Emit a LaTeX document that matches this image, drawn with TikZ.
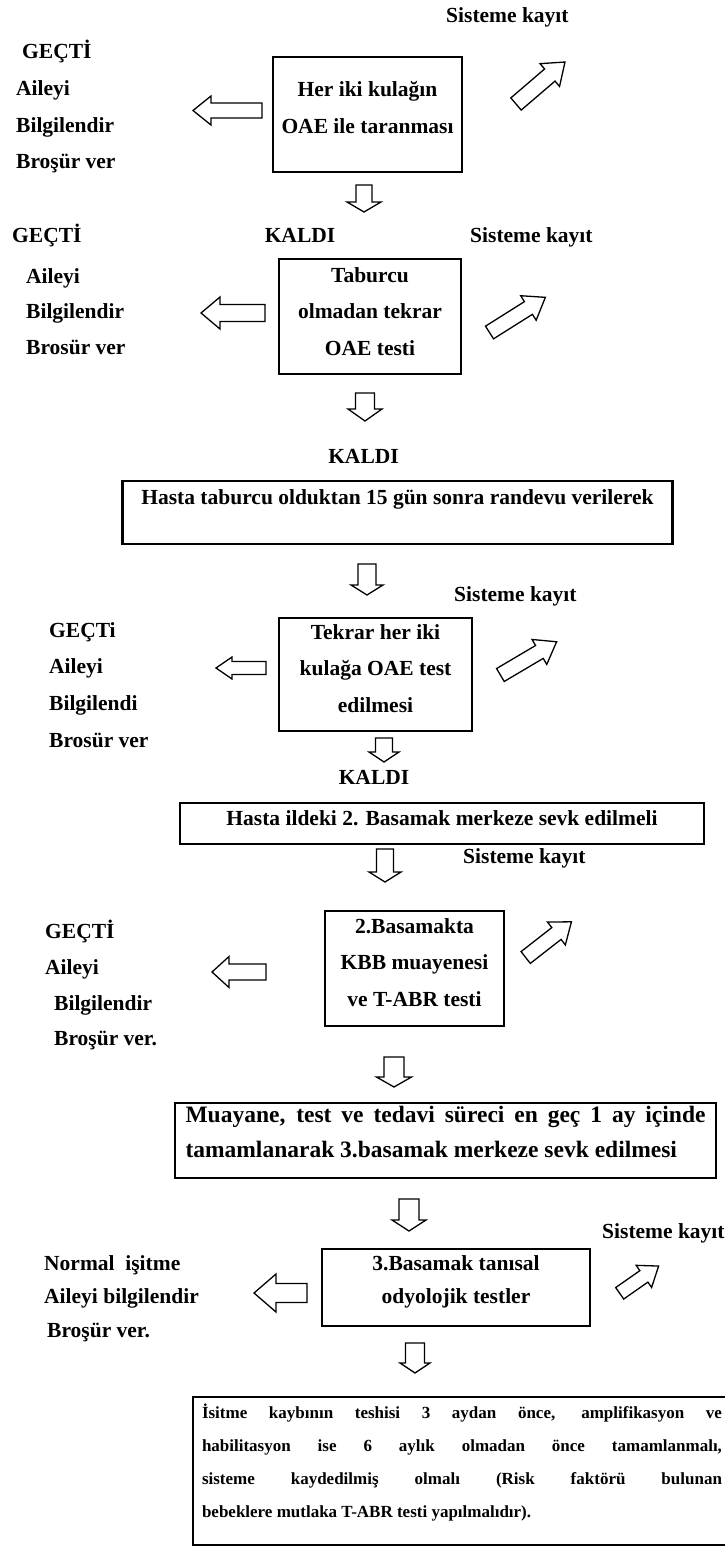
\documentclass[tikz,border=0pt]{standalone}
\usepackage{fontspec}
\setmainfont{Liberation Serif}
\newcommand\lab[2]{\bfseries\fontsize{#1}{#2}\selectfont}
\newcommand\fs{\rule{0pt}{18pt}}
\newcommand\ld[1]{\rule[-#1pt]{0pt}{0pt}}
\newcommand\blockarr[6]{\draw[barr, shift={(#1)}, rotate=#2] (0,-#4) -- ({#3-#6},-#4) -- ({#3-#6},-#5) -- (#3,0) -- ({#3-#6},#5) -- ({#3-#6},#4) -- (0,#4) -- cycle;}
\tikzset{
 barr/.style={draw=black, line width=1.3pt, fill=white, line join=miter},
 box/.style={draw=black, line width=2.5pt, inner sep=0pt, align=center, font=\lab{21.5}{36.5}},
 txt/.style={inner sep=0pt, anchor=base west, font=\lab{21.5}{36.5}},
 grp/.style={inner sep=0pt, anchor=north west, align=left},
}
\begin{document}
\begin{tikzpicture}[x=1pt,y=-1pt]
\useasboundingbox (0,0) rectangle (725,1547);
\fill[white] (0,0) rectangle (725,1547);

% row 1
\node[box, minimum width=189pt, minimum height=115pt] (b1) at (367.5,114.5) {\fs Her iki kulağın\\OAE ile taranması\ld{17}};
\node[txt] (s1) at (446,22) {Sisteme kayıt};
\node[grp, font=\lab{21.5}{36.7}] (g1) at (16,40) {\hspace*{6pt}GEÇTİ\fs\\Aileyi\\Bilgilendir\\Broşür ver};
\coordinate (l1) at (262,110.5); \blockarr{l1}{180}{69}{7.5}{14.5}{18}
\coordinate (r1) at (516,104); \blockarr{r1}{40.6}{64.5}{8}{15}{20}
\coordinate (d1) at (364,185); \blockarr{d1}{-90}{27}{8}{17}{10}

% row 2
\node[txt] (p2) at (12,242) {GEÇTİ};
\node[txt, anchor=base] (k1) at (300,242) {KALDI};
\node[txt] (s2) at (470,242) {Sisteme kayıt};
\node[box, minimum width=182pt, minimum height=115pt] (b2) at (370,316.5) {\fs Taburcu\\olmadan tekrar\\OAE testi\ld{14}};
\node[grp, font=\lab{21.5}{35.5}] (g2) at (26,265) {Aileyi\fs\\Bilgilendir\\Brosür ver};
\coordinate (l2) at (265,313); \blockarr{l2}{180}{64}{8.5}{16}{19}
\coordinate (r2) at (489.5,332.5); \blockarr{r2}{32.2}{66}{7.5}{14.5}{20}
\coordinate (d2) at (365,393); \blockarr{d2}{-90}{28}{9.5}{17}{12}

% row 3
\node[txt, anchor=base] (k2) at (363.5,463) {KALDI};
\node[box, minimum width=550pt, minimum height=63pt] (b3) at (397.5,512.5) {\fs Hasta taburcu olduktan 15 gün sonra randevu verilerek\ld{35}};
\coordinate (d3) at (367,564); \blockarr{d3}{-90}{31}{9}{16}{10}

% row 4
\node[txt] (s3) at (454,601) {Sisteme kayıt};
\node[box, minimum width=193pt, minimum height=113pt] (b4) at (375.5,674.5) {\fs Tekrar her iki\\kulağa OAE test\\edilmesi\ld{16}};
\node[grp, font=\lab{21.5}{36.7}] (g4) at (49,619) {GEÇTi\fs\\Aileyi\\Bilgilendi\\Brosür ver};
\coordinate (l4) at (266,668); \blockarr{l4}{180}{50}{6.5}{11}{16}
\coordinate (r4) at (500.4,675); \blockarr{r4}{30.6}{65.3}{7.5}{14.5}{20}
\coordinate (d4) at (384,738); \blockarr{d4}{-90}{24}{8.5}{15}{10}
\node[txt, anchor=base] (k3) at (374,784) {KALDI};

% row 5
\node[box, minimum width=524pt, minimum height=41pt] (b5) at (442,823.5) {\fs Hasta ildeki 2. Basamak merkeze sevk edilmeli\ld{15}};
\coordinate (d5) at (385,849); \blockarr{d5}{-90}{33}{8.5}{16}{10}
\node[txt] (s5) at (463,863) {Sisteme kayıt};

% row 6
\node[box, minimum width=179pt, minimum height=115pt] (b6) at (414.5,968.5) {\fs 2.Basamakta\\KBB muayenesi\\ve T-ABR testi\ld{16}};
\node[grp, font=\lab{21.5}{35.7}] (g6) at (45,920) {GEÇTİ\fs\\Aileyi\\\hspace*{9pt}Bilgilendir\\\hspace*{9pt}Broşür ver.};
\coordinate (l6) at (266,972); \blockarr{l6}{180}{54}{8}{15.5}{17}
\coordinate (r6) at (525.7,957.5); \blockarr{r6}{38}{58}{7.5}{14.5}{19}
\coordinate (d6) at (394,1057); \blockarr{d6}{-90}{30}{10}{17.5}{10}

% row 7
\node[box, minimum width=541pt, minimum height=75pt, text width=520pt, align=justify, font=\lab{23.5}{35}] (b7) at (445.5,1140.5) {\fs Muayane, test ve tedavi süreci en geç 1 ay içinde\linebreak tamamlanarak 3.basamak merkeze sevk edilmesi\ld{20}};
\coordinate (d7) at (409,1199); \blockarr{d7}{-90}{32}{10}{17}{11}

% row 8
\node[txt] (s8) at (602,1238) {Sisteme kayıt};
\node[box, minimum width=268pt, minimum height=77pt, font=\lab{21.5}{33}] (b8) at (456,1287.5) {\fs 3.Basamak tanısal\\odyolojik testler\ld{20}};
\node[grp, font=\lab{21.5}{33.5}] (g8) at (44,1252) {Normal\ \ işitme\fs\\Aileyi bilgilendir\\\hspace*{3pt}Broşür ver.};
\coordinate (l8) at (307,1293); \blockarr{l8}{180}{53}{9.5}{19}{22}
\coordinate (r8) at (619.7,1293.3); \blockarr{r8}{35}{47.5}{7}{13.5}{18}
\coordinate (d8) at (415,1343); \blockarr{d8}{-90}{30}{9.5}{15}{10}

% row 9
\node[box, minimum width=538pt, minimum height=148pt, text width=520pt, align=justify, font=\lab{17}{32.7}] (b9) at (462,1471) {\fs İsitme kaybının teshisi 3 aydan önce, amplifikasyon ve\linebreak habilitasyon ise 6 aylık olmadan önce tamamlanmalı,\linebreak sisteme kaydedilmiş olmalı (Risk faktörü bulunan\linebreak bebeklere mutlaka T-ABR testi yapılmalıdır).\ld{24}};
\end{tikzpicture}
\end{document}
